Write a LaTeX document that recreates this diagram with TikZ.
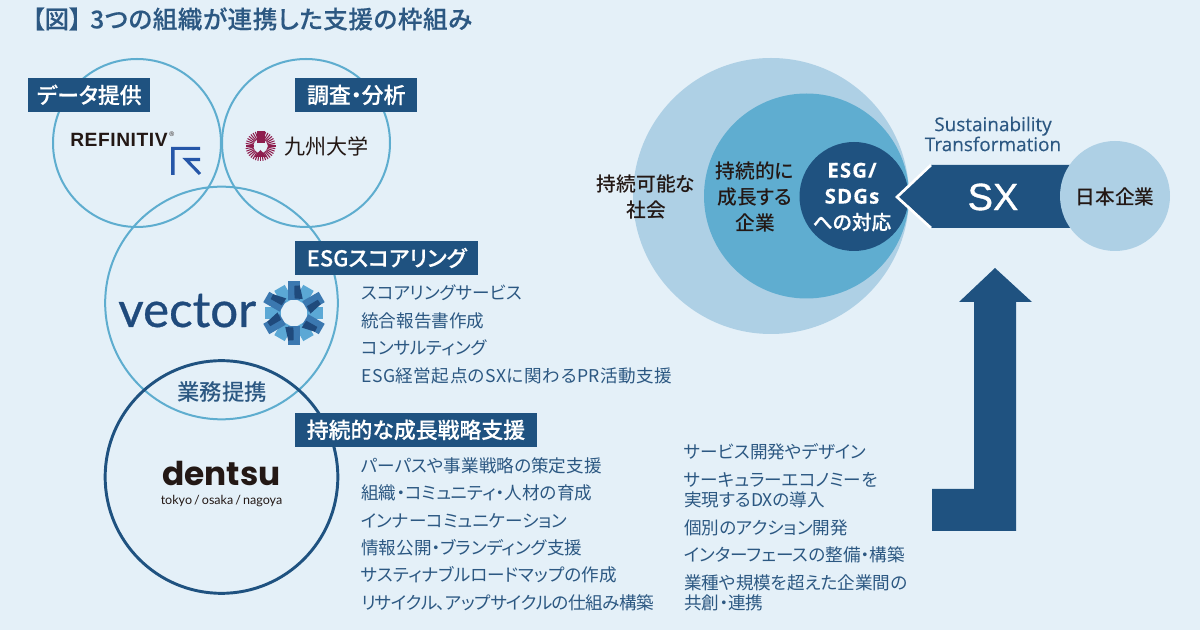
\documentclass[tikz,border=0pt]{standalone}
\usepackage{fontspec}
\usepackage{xcolor}
\setmainfont[RawFeature=+palt,BoldFont={Noto Sans CJK JP Medium}]{Noto Sans CJK JP}
\newfontfamily\arialfont{Liberation Sans}
\newfontfamily\latofont{Lato}
\newfontfamily\popfont{Poppins}
\newfontfamily\openfont{Open Sans}
\usetikzlibrary{positioning}
\definecolor{bgblue}{HTML}{E4F0F8}
\definecolor{ringblue}{HTML}{5EADCF}
\definecolor{navy}{HTML}{1F5280}
\definecolor{paleblue}{HTML}{AED0E5}
\definecolor{midblue}{HTML}{5FADD0}
\definecolor{textblue}{HTML}{2C5882}
\definecolor{inkblack}{HTML}{231815}
\definecolor{crimson}{HTML}{8E1E4E}
\definecolor{refblue}{HTML}{2556A8}
\definecolor{vecdark}{HTML}{1F4A7C}
\definecolor{vecmid}{HTML}{3B78B0}
\definecolor{veclight}{HTML}{5BA8D5}
\newcommand{\discword}[1]{{\openfont\addfontfeature{LetterSpace=5,FakeBold=0.2}\fontsize{15.4}{19.5}\selectfont #1}}
\tikzstyle{ring} = [circle, draw=ringblue, line width=1.5pt, minimum size=126pt, inner sep=0pt]
\tikzstyle{bigring} = [circle, draw=ringblue, line width=1.5pt, minimum size=174.5pt, inner sep=0pt]
\tikzstyle{header} = [fill=navy, text=white, font=\fontsize{16.4}{18}\selectfont\bfseries\addfontfeature{FakeBold=0.25}, minimum height=25pt, inner sep=0pt, anchor=north west]
\tikzstyle{item} = [text=textblue, font=\fontsize{13.2}{15}\selectfont, anchor=west, inner sep=0pt]
\tikzstyle{disc} = [circle, inner sep=0pt, align=center, text=inkblack, font=\fontsize{14.8}{19.5}\selectfont\bfseries]
\tikzstyle{navyfill} = [fill=navy, draw=none]
\begin{document}
\begin{tikzpicture}[x=0.75pt,y=-0.75pt]
\useasboundingbox (0,0) rectangle (1200,630);
\fill[bgblue] (0,0) rectangle (1200,630);
% title
\node[anchor=west, inner sep=0pt, text=textblue, font=\fontsize{18.4}{20}\selectfont\bfseries\addfontfeature{FakeBold=0.25}] (titlemark) at (32,19) {【図】};
\node[anchor=west, inner sep=0pt, text=textblue, font=\fontsize{18.4}{20}\selectfont\bfseries\addfontfeature{LetterSpace=2.5,FakeBold=0.25}] (title) at (90,19) {3つの組織が連携した支援の枠組み};
% left circles
\node[ring] (refinitiv) at (137,143) {};
\node[ring] (kyushu) at (306,143) {};
\node[bigring] (vector) at (221.5,303) {};
\node[bigring, draw=navy, line width=2.2pt] (dentsu) at (221.5,477) {};
\node[header, minimum width=91.5pt] (datahead) at (28,78) {データ提供};
\node[header, minimum width=91.5pt] (surveyhead) at (295,78) {調査・分析};
\node[header, minimum width=137pt] (esghead) at (295,241) {ESGスコアリング};
\node[header, minimum width=181pt] (growthhead) at (295,413) {持続的な成長戦略支援};
\node[text=textblue, inner sep=0pt, font=\fontsize{16.8}{18}\selectfont\bfseries] (tieup) at (222,392) {業務提携};
% refinitiv logo
\node[anchor=west, inner sep=0pt, text=inkblack, font=\fontsize{14.4}{15}\selectfont\arialfont\bfseries\addfontfeature{LetterSpace=3}] (refname) at (70,140) {REFINITIV};
\node[anchor=west, inner sep=0pt, text=inkblack, font=\fontsize{5}{5}\selectfont\arialfont] (refmark) at (169,134) {®};
\fill[refblue] (171,147) -- (200,147) -- (200,150) -- (174.5,150) -- (174.5,175) -- (171,175) -- cycle;
\draw[refblue, line width=2.3pt, miter limit=10] (200,159.5) -- (186,159.5) -- (200,174);
% kyushu logo
\foreach \a in {-80,-70,...,260}
  \draw[crimson, line width=0.8pt] (260.5,146) ++(\a:7) -- ++(\a:8);
\fill[crimson] (256.5,131) rectangle (264.5,143);
\fill[crimson] (254,157) -- (267,157) -- (260.5,150) -- cycle;
\node[anchor=west, inner sep=0pt, text=inkblack, font=\fontsize{15.8}{18}\selectfont] (kyuname) at (284,146) {九州大学};
% vector logo
\node[anchor=base west, inner sep=0pt, text=vecdark, font=\fontsize{37}{38}\selectfont\latofont\addfontfeature{FakeBold=0.6}] (vecname) at (118,327) {vector};
\foreach \a in {0,60,...,300}
  \fill[veclight, rotate around={\a:(294,313)}] (307,307) rectangle (323,319);
\foreach \a in {30,90,...,330}
  \fill[vecmid, rotate around={\a:(294,313)}] (307,307) rectangle (326,319);
\foreach \a in {12,72,...,312}
  \fill[vecdark, rotate around={\a:(294,313)}] (308,309) -- (320,305) -- (322,310) -- (310,317) -- cycle;
% dentsu logo
\node[anchor=base, inner sep=0pt, text depth=0pt, text=inkblack, font=\fontsize{24.6}{26}\selectfont\popfont\bfseries] (dentname) at (221.5,486) {dentsu};
\node[inner sep=0pt, text=inkblack, font=\fontsize{9.4}{11}\selectfont\latofont] (dentcity) at (221.5,501.5) {tokyo\,/\,osaka\,/\,nagoya};
% lists
\node[item] (esgone) at (361,293) {スコアリングサービス};
\node[item] (esgtwo) at (361,321) {統合報告書作成};
\node[item] (esgthree) at (361,348) {コンサルティング};
\node[item, font=\fontsize{13.2}{15}\selectfont\addfontfeature{LetterSpace=2.8}] (esgfour) at (361,376) {ESG経営起点のSXに関わるPR活動支援};
\node[item] (growone) at (361,466) {パーパスや事業戦略の策定支援};
\node[item] (growtwo) at (361,493) {組織・コミュニティ・人材の育成};
\node[item] (growthree) at (361,521) {インナーコミュニケーション};
\node[item] (growfour) at (361,548) {情報公開・ブランディング支援};
\node[item] (growfive) at (361,575) {サスティナブルロードマップの作成};
\node[item, font=\fontsize{13.2}{15}\selectfont\addfontfeature{LetterSpace=-2.5}] (growsix) at (361,603) {リサイクル、アップサイクルの仕組み構築};
\node[item] (dxone) at (684,452) {サービス開発やデザイン};
\node[item] (dxtwo) at (684,480) {サーキュラーエコノミーを};
\node[item] (dxtwob) at (684,500) {実現するDXの導入};
\node[item] (dxthree) at (684,528) {個別のアクション開発};
\node[item] (dxfour) at (684,555) {インターフェースの整備・構築};
\node[item] (dxfive) at (684,583) {業種や規模を超えた企業間の};
\node[item] (dxfiveb) at (684,603) {共創・連携};
% right discs
\fill[paleblue] (771,196) circle (138);
\fill[midblue] (806.5,196) circle (102.5);
\fill[navy] (854,196.5) circle (54.5);
\node[disc] (society) at (646,196.5) {持続可能な\\社会};
\node[disc] (company) at (755,197) {持続的に\\成長する\\企業};
\node[disc, text=white] (esgdisc) at (852,197) {\discword{ESG/}\\\discword{SDGs}\\{\addfontfeature{FakeBold=0.3}への対応}};
% sx arrow
\fill[navyfill] (900,197) -- (931,165) -- (1075,165) -- (1075,228) -- (931,228) -- cycle;
\draw[white, line width=2pt, miter limit=10] (931,165) -- (897,197) -- (931,228);
\fill[paleblue] (1115,196) circle (55);
\node[disc] (nihon) at (1115,197) {日本企業};
\node[inner sep=0pt, text=white, font=\fontsize{28.5}{30}\selectfont\arialfont\addfontfeature{FakeBold=0.9}] (sx) at (993,197) {SX};
\node[inner sep=0pt, align=center, text=textblue, font=\fontsize{14.2}{15}\selectfont\openfont\addfontfeature{FakeBold=0.3}] (sxlabel) at (993,134) {Sustainability\\Transformation};
% up arrow
\fill[navyfill] (995,268) -- (1032,302) -- (1016,302) -- (1016,531) -- (932,531) -- (932,489) -- (974,489) -- (974,302) -- (959,302) -- cycle;
\end{tikzpicture}
\end{document}
